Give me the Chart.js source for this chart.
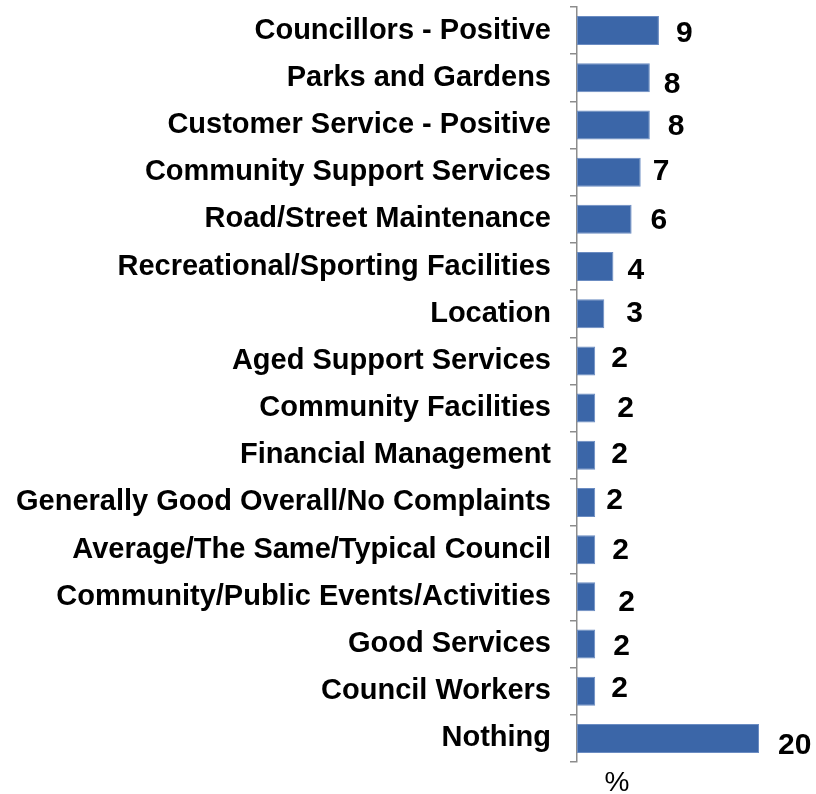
<!DOCTYPE html>
<html>
<head>
<meta charset="utf-8">
<script src="https://cdn.jsdelivr.net/npm/chart.js@4"></script>
<style>
  html, body { margin: 0; padding: 0; background: #fff; }
  #wrap { width: 816px; height: 794px; position: relative; }
</style>
</head>
<body>
<div id="wrap"><canvas id="chart"></canvas></div>
<script>
// Chart data
const categories = [
    'Councillors - Positive',
    'Parks and Gardens',
    'Customer Service - Positive',
    'Community Support Services',
    'Road/Street Maintenance',
    'Recreational/Sporting Facilities',
    'Location',
    'Aged Support Services',
    'Community Facilities',
    'Financial Management',
    'Generally Good Overall/No Complaints',
    'Average/The Same/Typical Council',
    'Community/Public Events/Activities',
    'Good Services',
    'Council Workers',
    'Nothing'
];
const values = [9, 8, 8, 7, 6, 4, 3, 2, 2, 2, 2, 2, 2, 2, 2, 20];
const axisUnit = '%';

// small nudges for the value labels (they wander a bit in the original)
const labelNudgeX = [0, -3, 1, -5, 2, -3, 5, -1, 5, -1, -6, 0, 6, 1, -1, 2];
const labelNudgeY = [0, 4, -1, -3, -2, 1, -3, -5, -2, -4, -5, -2, 3, 0, -5, 4];

const FONT = '"Liberation Sans", Arial, Helvetica, sans-serif';

// Value labels next to each bar + the "%" under the axis
const valueLabels = {
    id: 'valueLabels',
    afterDatasetsDraw(chart) {
        const ctx = chart.ctx;
        const meta = chart.getDatasetMeta(0);
        ctx.save();
        ctx.fillStyle = '#000';
        ctx.font = 'bold 30px ' + FONT;
        ctx.textAlign = 'left';
        ctx.textBaseline = 'middle';
        meta.data.forEach((bar, i) => {
            ctx.fillText(String(values[i]), bar.x + 17 + labelNudgeX[i], bar.y + 3 + labelNudgeY[i]);
        });
        ctx.font = '28px ' + FONT;
        ctx.textAlign = 'center';
        ctx.fillText(axisUnit, chart.chartArea.left + 40, chart.chartArea.bottom + 21);
        ctx.restore();
    }
};

new Chart(document.getElementById('chart'), {
    type: 'bar',
    data: {
        labels: categories,
        datasets: [{
            data: values,
            backgroundColor: '#3b66a8',
            borderColor: '#6b8cc2',
            borderWidth: 1,
            borderSkipped: false,
            barPercentage: 0.615,
            categoryPercentage: 1
        }]
    },
    options: {
        indexAxis: 'y',
        responsive: true,
        maintainAspectRatio: false,
        animation: false,
        layout: { padding: { top: 7, bottom: 32, left: 0, right: 0 } },
        plugins: {
            legend: { display: false },
            tooltip: { enabled: false }
        },
        scales: {
            x: {
                display: false,
                min: 0,
                max: 26.26
            },
            y: {
                afterFit: (scale) => {
                    scale.width = 577;
                    // labels sit inside their bands, no extra room needed
                    scale.paddingTop = 0;
                    scale.paddingBottom = 0;
                },
                border: { display: true, color: '#8c8c8c', width: 1.5 },
                grid: {
                    offset: true,
                    drawOnChartArea: false,
                    drawTicks: true,
                    tickLength: 7,
                    color: '#8c8c8c',
                    lineWidth: 1.5
                },
                ticks: {
                    color: '#000',
                    padding: 19,
                    autoSkip: false,
                    font: { family: FONT, size: 29, weight: 'bold' }
                }
            }
        }
    },
    plugins: [valueLabels]
});
</script>
</body>
</html>
